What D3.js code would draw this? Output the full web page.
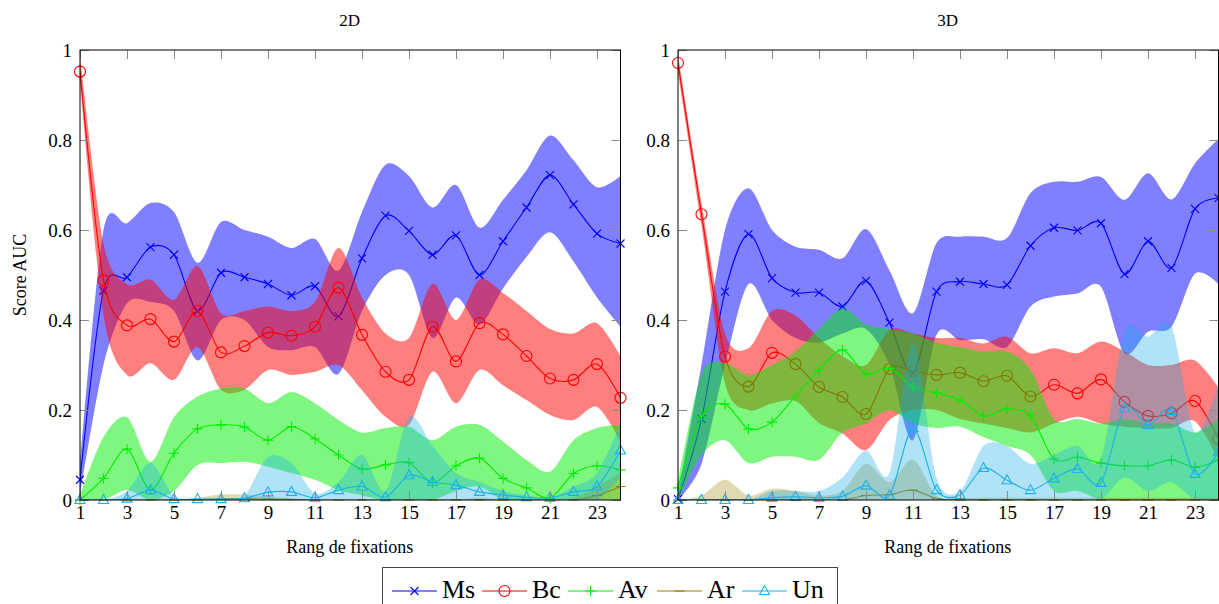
<!DOCTYPE html>
<html lang="fr">
<head>
  <meta charset="UTF-8">
  <script src="https://d3js.org/d3.v7.min.js"></script>
  <title>Score AUC 2D / 3D</title>
  <style>
    body { margin: 0; background: #fff; overflow: hidden; }
    svg text { font-family: "Liberation Serif", "Times New Roman", "DejaVu Serif", serif; fill: #000; }
  </style>
</head>
<body>
<script>
  // fixation ranks (x categories)
  const ranks = [1,2,3,4,5,6,7,8,9,10,11,12,13,14,15,16,17,18,19,20,21,22,23,24];
  const xTicks = [1,3,5,7,9,11,13,15,17,19,21,23];
  const yTicks = [0,0.2,0.4,0.6,0.8,1];

  // ---- 2D ----
  const ms2d   = [0.045,0.465,0.495,0.562,0.545,0.42,0.505,0.495,0.48,0.455,0.475,0.408,0.537,0.632,0.598,0.545,0.588,0.5,0.575,0.65,0.722,0.657,0.592,0.57];
  const ms2dHi = [0.08,0.6,0.615,0.66,0.64,0.527,0.618,0.6,0.585,0.56,0.58,0.51,0.64,0.745,0.72,0.65,0.70,0.605,0.667,0.733,0.81,0.755,0.695,0.72];
  const ms2dLo = [0.01,0.3,0.437,0.44,0.42,0.31,0.4,0.4,0.34,0.333,0.34,0.28,0.42,0.5,0.5,0.36,0.45,0.39,0.47,0.54,0.595,0.53,0.45,0.385];

  const bc2d   = [0.952,0.488,0.388,0.402,0.352,0.42,0.328,0.342,0.372,0.365,0.385,0.472,0.367,0.285,0.267,0.385,0.308,0.393,0.368,0.32,0.27,0.267,0.302,0.227];
  const bc2dHi = [0.99,0.57,0.48,0.49,0.445,0.52,0.415,0.42,0.43,0.42,0.44,0.56,0.45,0.37,0.36,0.48,0.40,0.49,0.46,0.42,0.38,0.37,0.393,0.32];
  const bc2dLo = [0.93,0.41,0.278,0.304,0.267,0.34,0.245,0.245,0.289,0.278,0.285,0.3,0.244,0.185,0.167,0.285,0.215,0.289,0.255,0.222,0.189,0.178,0.207,0.13];

  const av2d   = [0,0.048,0.113,0.022,0.104,0.158,0.167,0.162,0.133,0.163,0.136,0.1,0.069,0.078,0.083,0.038,0.076,0.093,0.048,0.027,0.004,0.059,0.076,0.067];
  const av2dHi = [0.01,0.14,0.184,0.085,0.184,0.23,0.248,0.248,0.215,0.24,0.215,0.178,0.15,0.16,0.163,0.133,0.163,0.167,0.13,0.089,0.063,0.133,0.16,0.167];
  const av2dLo = [0,0,0.022,0,0.02,0.078,0.082,0.085,0.074,0.06,0.045,0.022,0.01,0,0,0,0.02,0.03,0,0,0,0,0,0];

  const ar2d   = [0,0,0,0,0,0,0.002,0.003,0.002,0.001,0,0,0,0,0,0,0,0,0,0,0,0,0.01,0.03];
  const ar2dHi = [0,0,0,0,0,0.005,0.012,0.012,0.008,0.004,0,0,0,0,0,0,0,0.005,0,0,0,0.005,0.03,0.06];
  const ar2dLo = [0,0,0,0,0,0,0,0,0,0,0,0,0,0,0,0,0,0,0,0,0,0,0,0];

  const un2d   = [0,0,0.003,0.022,0.002,0.002,0.002,0.004,0.017,0.018,0.005,0.022,0.03,0.006,0.055,0.04,0.033,0.018,0.011,0.006,0.005,0.018,0.03,0.11];
  const un2dHi = [0,0,0.02,0.082,0.01,0.003,0.005,0.01,0.096,0.082,0.015,0.04,0.1,0.02,0.185,0.12,0.06,0.04,0.02,0.01,0.005,0.03,0.06,0.17];
  const un2dLo = [0,0,0,0,0,0,0,0,0,0,0,0,0,0,0,0,0,0,0,0,0,0,0,0.05];

  // ---- 3D ----
  const ms3d   = [0.002,0.18,0.463,0.591,0.493,0.461,0.461,0.43,0.487,0.394,0.282,0.463,0.485,0.48,0.478,0.565,0.605,0.599,0.615,0.502,0.575,0.516,0.647,0.671];
  const ms3dHi = [0.01,0.3,0.6,0.693,0.6,0.563,0.556,0.537,0.602,0.51,0.415,0.571,0.585,0.585,0.582,0.682,0.707,0.707,0.718,0.667,0.726,0.668,0.748,0.802];
  const ms3dLo = [0,0.08,0.3,0.48,0.4,0.36,0.35,0.37,0.38,0.3,0.133,0.367,0.355,0.357,0.34,0.43,0.452,0.459,0.474,0.326,0.374,0.385,0.503,0.48];

  const bc3d   = [0.971,0.635,0.319,0.252,0.327,0.302,0.251,0.229,0.191,0.291,0.287,0.278,0.283,0.264,0.276,0.23,0.256,0.237,0.268,0.218,0.187,0.193,0.22,0.136];
  const bc3dHi = [0.99,0.66,0.37,0.337,0.42,0.41,0.36,0.32,0.3,0.378,0.37,0.36,0.36,0.348,0.363,0.326,0.337,0.326,0.352,0.33,0.3,0.3,0.31,0.25];
  const bc3dLo = [0.95,0.61,0.26,0.2,0.215,0.22,0.171,0.148,0.111,0.178,0.2,0.2,0.18,0.17,0.16,0.15,0.17,0.185,0.17,0.163,0.16,0.16,0.175,0.09];

  const av3d   = [0.027,0.185,0.213,0.158,0.173,0.231,0.289,0.333,0.28,0.293,0.251,0.238,0.222,0.187,0.202,0.187,0.091,0.095,0.082,0.076,0.076,0.089,0.073,0.089];
  const av3dHi = [0.04,0.28,0.304,0.278,0.3,0.33,0.38,0.426,0.39,0.38,0.37,0.35,0.34,0.33,0.33,0.29,0.18,0.18,0.17,0.18,0.17,0.17,0.15,0.18];
  const av3dLo = [0,0.1,0.133,0.082,0.096,0.096,0.089,0.15,0.17,0.2,0.17,0.16,0.163,0.14,0.12,0.1,0.02,0.02,0,0,0,0,0,0];

  const ar3d   = [0,0,0,0,0,0,0,0,0.01,0.012,0.022,0.003,0,0,0,0,0,0,0,0,0,0,0,0];
  const ar3dHi = [0,0.01,0.045,0.01,0.025,0.02,0.01,0.02,0.08,0.04,0.09,0.01,0.005,0.005,0.005,0.005,0.005,0.005,0.005,0.005,0.005,0.005,0.005,0.005];
  const ar3dLo = [0,0,0,0,0,0,0,0,0,0,0,0,0,0,0,0,0,0,0,0,0,0,0,0];

  const un3d   = [0,0,0,0,0.005,0.007,0.005,0.008,0.032,0.01,0.16,0.022,0.011,0.071,0.044,0.022,0.048,0.069,0.038,0.204,0.167,0.198,0.058,0.107];
  const un3dHi = [0,0,0,0,0.02,0.02,0.02,0.05,0.11,0.06,0.35,0.05,0.02,0.12,0.12,0.08,0.1,0.12,0.09,0.374,0.363,0.385,0.15,0.26];
  const un3dLo = [0,0,0,0,0,0,0,0,0,0,0,0,0,0,0,0,0,0,0,0.05,0.02,0.04,0,0];

  // series look
  const seriesNames = ["Ms", "Bc", "Av", "Ar", "Un"];
  const seriesColors = ["#0000ff", "#ff0000", "#00ee00", "#9a8000", "#1eb0e8"];
  const bandOpacity = [0.5, 0.5, 0.5, 0.3, 0.35];
  const markerPaths = [
    "M-4,-4L4,4M-4,4L4,-4",
    null,
    "M-5,0H5M0,-5V5",
    "M-5,0H5",
    "M0,-5.5L5,3.5L-5,3.5Z"
  ];
  const serif = "'Liberation Serif', 'Times New Roman', 'DejaVu Serif', serif";

  const panels = [
    { title: "2D", x0: 80, data: [[ms2d, ms2dLo, ms2dHi], [bc2d, bc2dLo, bc2dHi], [av2d, av2dLo, av2dHi], [ar2d, ar2dLo, ar2dHi], [un2d, un2dLo, un2dHi]] },
    { title: "3D", x0: 678, data: [[ms3d, ms3dLo, ms3dHi], [bc3d, bc3dLo, bc3dHi], [av3d, av3dLo, av3dHi], [ar3d, ar3dLo, ar3dHi], [un3d, un3dLo, un3dHi]] }
  ];

  const width = 1219, height = 604;
  const plotW = 540.5, plotTop = 50, plotBottom = 500;

  const svg = d3.select("body").append("svg")
    .attr("width", width)
    .attr("height", height);

  const curve = d3.curveCardinal.tension(0.1);

  panels.forEach((p, pi) => {
    const x = d3.scaleLinear().domain([1, 24]).range([p.x0, p.x0 + plotW]);
    const y = d3.scaleLinear().domain([0, 1]).range([plotBottom, plotTop]);
    const g = svg.append("g");

    const clipId = "clip" + pi;
    svg.append("clipPath").attr("id", clipId)
      .append("rect")
      .attr("x", p.x0).attr("y", plotTop)
      .attr("width", plotW).attr("height", plotBottom - plotTop);

    const plot = g.append("g");

    p.data.forEach((s, si) => {
      const [vals, lo, hi] = s;
      const pts = ranks.map((r, i) => ({ r, v: vals[i], lo: lo[i], hi: hi[i] }));
      const col = seriesColors[si];

      // shaded band (min / max)
      plot.append("path")
        .datum(pts)
        .attr("clip-path", `url(#${clipId})`)
        .attr("fill", col)
        .attr("fill-opacity", bandOpacity[si])
        .attr("d", d3.area().curve(curve)
          .x(d => x(d.r))
          .y0(d => y(d.lo))
          .y1(d => y(d.hi)));

      // mean line
      plot.append("path")
        .datum(pts)
        .attr("clip-path", `url(#${clipId})`)
        .attr("fill", "none")
        .attr("stroke", col)
        .attr("stroke-width", 1.1)
        .attr("d", d3.line().curve(curve).x(d => x(d.r)).y(d => y(d.v)));

      // markers
      const mk = plot.append("g").selectAll("g")
        .data(pts).enter().append("g")
        .attr("transform", d => `translate(${x(d.r)},${y(d.v)})`);
      if (markerPaths[si]) {
        mk.append("path").attr("d", markerPaths[si])
          .attr("fill", "none").attr("stroke", col).attr("stroke-width", 1.1);
      } else {
        mk.append("circle").attr("r", 5.5)
          .attr("fill", "none").attr("stroke", col).attr("stroke-width", 1.1);
      }
    });

    // axes: ticks point inward
    const styleAxis = sel => {
      sel.attr("font-family", null);
      sel.select(".domain").remove();
      sel.selectAll(".tick line").attr("stroke", "#8a8a8a");
      sel.selectAll("text")
        .attr("font-family", serif)
        .style("font-family", serif)
        .style("font-size", "19px");
    };
    g.append("g").attr("transform", `translate(0,${plotBottom})`)
      .call(d3.axisBottom(x).tickValues(xTicks).tickSize(-9).tickPadding(6).tickFormat(d3.format("d")))
      .call(styleAxis);
    g.append("g").attr("transform", `translate(0,${plotTop})`)
      .call(d3.axisTop(x).tickValues(xTicks).tickSize(-9).tickFormat(""))
      .call(styleAxis);
    g.append("g").attr("transform", `translate(${p.x0},0)`)
      .call(d3.axisLeft(y).tickValues(yTicks).tickSize(-9).tickPadding(8).tickFormat(d3.format("~g")))
      .call(styleAxis);
    g.append("g").attr("transform", `translate(${p.x0 + plotW},0)`)
      .call(d3.axisRight(y).tickValues(yTicks).tickSize(-9).tickFormat(""))
      .call(styleAxis);

    // frame
    g.append("rect")
      .attr("x", p.x0).attr("y", plotTop)
      .attr("width", plotW).attr("height", plotBottom - plotTop)
      .attr("fill", "none").attr("stroke", "#000").attr("stroke-width", 1);

    // titles
    g.append("text")
      .attr("x", p.x0 + plotW / 2 - 0.5).attr("y", 26)
      .attr("text-anchor", "middle")
      .style("font-family", serif)
      .style("font-size", "17px")
      .text(p.title);
    g.append("text")
      .attr("x", p.x0 + plotW / 2 - 0.5).attr("y", 553)
      .attr("text-anchor", "middle")
      .style("font-family", serif)
      .style("font-size", "18px")
      .text("Rang de fixations");
  });

  // y label
  svg.append("text")
    .attr("transform", "translate(26,275) rotate(-90)")
    .attr("text-anchor", "middle")
    .style("font-family", serif)
    .style("font-size", "18px")
    .text("Score AUC");

  // legend
  const legend = svg.append("g");
  legend.append("rect")
    .attr("x", 382.5).attr("y", 567.5)
    .attr("width", 455).attr("height", 45)
    .attr("fill", "#fff").attr("stroke", "#444").attr("stroke-width", 1);

  const legendX = [392, 482, 568, 657, 742];
  seriesNames.forEach((name, i) => {
    const lx = legendX[i], ly = 591;
    const item = legend.append("g");
    item.append("line")
      .attr("x1", lx).attr("x2", lx + 45)
      .attr("y1", ly).attr("y2", ly)
      .attr("stroke", seriesColors[i]).attr("stroke-width", 1.1);
    const m = item.append("g").attr("transform", `translate(${lx + 22.5},${ly})`);
    if (markerPaths[i]) {
      m.append("path").attr("d", markerPaths[i])
        .attr("fill", "none").attr("stroke", seriesColors[i]).attr("stroke-width", 1.1);
    } else {
      m.append("circle").attr("r", 5.5)
        .attr("fill", "none").attr("stroke", seriesColors[i]).attr("stroke-width", 1.1);
    }
    item.append("text")
      .attr("x", lx + 50).attr("y", 598)
      .style("font-family", serif)
      .style("font-size", "26px")
      .text(name);
  });
</script>
</body>
</html>
